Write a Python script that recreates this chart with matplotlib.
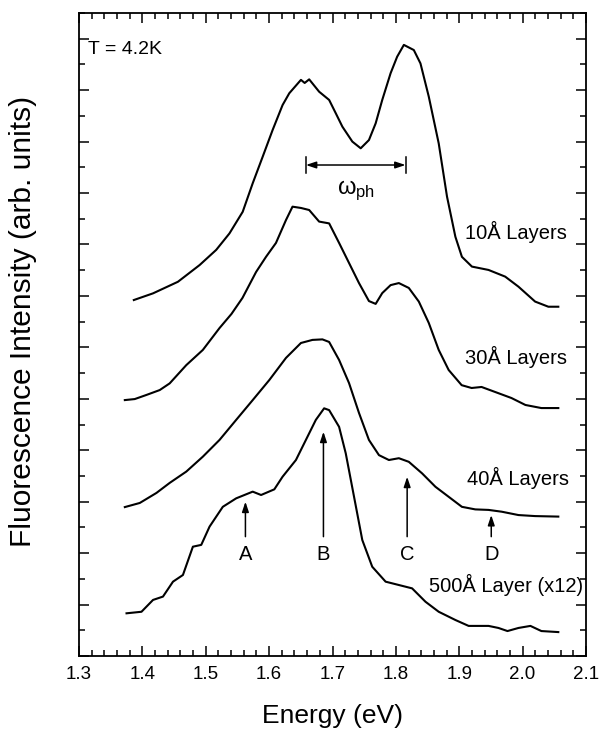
import matplotlib
matplotlib.use("Agg")
import matplotlib.pyplot as plt
from matplotlib.ticker import MultipleLocator

plt.rcParams['font.family'] = ['Liberation Sans', 'DejaVu Sans']
plt.rcParams['mathtext.fontset'] = 'custom'
plt.rcParams['mathtext.rm'] = 'Liberation Sans'
plt.rcParams['mathtext.it'] = 'Liberation Sans'

# ---- data (energy in eV, intensity in arbitrary offset units) ----
e_10 = [1.3865, 1.4168, 1.4561, 1.4903, 1.5165, 1.5374, 1.5583, 1.5741, 1.5898, 1.6055,
        1.6212, 1.6318, 1.6502, 1.6561, 1.6632, 1.6789, 1.6947, 1.7052, 1.7156, 1.7313,
        1.7445, 1.7575, 1.7681, 1.7785, 1.7917, 1.8020, 1.8126, 1.8283, 1.8388, 1.8519,
        1.8676, 1.8807, 1.8939, 1.9042, 1.9200, 1.9462, 1.9725, 1.9934, 2.0197, 2.0406, 2.0563]
i_10 = [13.84, 14.10, 14.55, 15.20, 15.79, 16.43, 17.27, 18.38, 19.41, 20.45,
        21.42, 21.88, 22.40, 22.28, 22.42, 21.94, 21.62, 21.10, 20.58, 20.00,
        19.74, 20.06, 20.71, 21.62, 22.66, 23.30, 23.76, 23.56, 23.04, 21.75,
        19.93, 17.86, 16.30, 15.52, 15.14, 15.01, 14.75, 14.36, 13.78, 13.58, 13.58]

e_30 = [1.3723, 1.3880, 1.4064, 1.4274, 1.4431, 1.4693, 1.4954, 1.5217, 1.5406, 1.5579,
        1.5794, 1.5951, 1.6108, 1.6266, 1.6369, 1.6502, 1.6632, 1.6789, 1.6947, 1.7104,
        1.7261, 1.7418, 1.7575, 1.7681, 1.7785, 1.7917, 1.8047, 1.8204, 1.8362, 1.8519,
        1.8676, 1.8833, 1.9038, 1.9195, 1.9352, 1.9572, 1.9824, 2.0044, 2.0296, 2.0563]
i_30 = [9.95, 9.99, 10.15, 10.34, 10.60, 11.31, 11.90, 12.75, 13.30, 13.92,
        14.93, 15.52, 16.06, 16.95, 17.47, 17.42, 17.34, 16.89, 16.82, 16.06,
        15.28, 14.50, 13.80, 13.69, 14.11, 14.42, 14.50, 14.31, 13.78, 12.95,
        11.90, 11.12, 10.53, 10.42, 10.46, 10.26, 10.03, 9.76, 9.64, 9.64]

e_40 = [1.3723, 1.3959, 1.4222, 1.4431, 1.4693, 1.4954, 1.5217, 1.5480, 1.5741, 1.6003,
        1.6266, 1.6502, 1.6684, 1.6841, 1.6947, 1.7104, 1.7261, 1.7418, 1.7575, 1.7733,
        1.7890, 1.8047, 1.8204, 1.8414, 1.8624, 1.8833, 1.9042, 1.9253, 1.9462, 1.9671,
        1.9934, 2.0197, 2.0563]
i_40 = [5.79, 5.95, 6.34, 6.73, 7.17, 7.75, 8.40, 9.18, 9.95, 10.73,
        11.59, 12.17, 12.29, 12.31, 12.21, 11.51, 10.61, 9.45, 8.40, 7.81,
        7.62, 7.69, 7.55, 7.10, 6.58, 6.19, 5.80, 5.70, 5.68, 5.61,
        5.48, 5.44, 5.42]

e_500 = [1.3750, 1.3986, 1.4168, 1.4325, 1.4483, 1.4640, 1.4797, 1.4929, 1.5060, 1.5269,
         1.5480, 1.5741, 1.5873, 1.6082, 1.6212, 1.6423, 1.6580, 1.6737, 1.6868, 1.6947,
         1.7104, 1.7209, 1.7340, 1.7470, 1.7627, 1.7838, 1.8047, 1.8256, 1.8467, 1.8676,
         1.8939, 1.9148, 1.9462, 1.9619, 1.9761, 1.9934, 2.0123, 2.0296, 2.0563]
i_500 = [1.66, 1.72, 2.18, 2.31, 2.89, 3.15, 4.25, 4.32, 5.03, 5.80,
         6.13, 6.39, 6.26, 6.48, 6.97, 7.62, 8.40, 9.18, 9.63, 9.56,
         8.91, 7.88, 6.19, 4.51, 3.47, 2.89, 2.76, 2.63, 2.11, 1.72,
         1.40, 1.17, 1.17, 1.09, 0.97, 1.09, 1.17, 0.97, 0.93]

curve_labels = ['10Å Layers', '30Å Layers', '40Å Layers', '500Å Layer (x12)']
curve_label_x = [1.9096, 1.9096, 1.9116, 1.8519]
curve_label_y = [16.5, 11.61, 6.91, 2.76]

peak_names = ['A', 'B', 'C', 'D']
peak_energies = [1.5626, 1.6857, 1.8178, 1.9505]
peak_arrow_tops = [6.00, 8.72, 6.97, 5.48]
arrow_base = 4.64
peak_label_y = 3.93

phonon_left = 1.658
phonon_right = 1.8153
phonon_y = 19.09

x_ticks = [1.3, 1.4, 1.5, 1.6, 1.7, 1.8, 1.9, 2.0, 2.1]

# ---- figure ----
fig = plt.figure(figsize=(6.0, 7.29), dpi=100)
ax = fig.add_axes([79 / 600, 73 / 729, 507 / 600, 643 / 729])

lw = 1.5
for e, i in [(e_10, i_10), (e_30, i_30), (e_40, i_40), (e_500, i_500)]:
    ax.plot(e, i, color='black', lw=lw, solid_joinstyle='round')

for txt, x, y in zip(curve_labels, curve_label_x, curve_label_y):
    ax.text(x, y, txt, fontsize=14.5, ha='left', va='center')

for name, e, top in zip(peak_names, peak_energies, peak_arrow_tops):
    ax.annotate('', xy=(e, top), xytext=(e, arrow_base),
                arrowprops=dict(arrowstyle='-|>,head_length=0.6,head_width=0.2',
                                color='black', lw=1.1, shrinkA=0, shrinkB=0))
    ax.text(e, peak_label_y, name, fontsize=14.5, ha='center', va='center')

# phonon energy marker
ax.annotate('', xy=(phonon_right, phonon_y), xytext=(phonon_left, phonon_y),
            arrowprops=dict(arrowstyle='<|-|>,head_length=0.6,head_width=0.2',
                            color='black', lw=1.1, shrinkA=0, shrinkB=0))
ax.plot([phonon_left, phonon_left], [phonon_y - 0.33, phonon_y + 0.33], color='black', lw=1.1)
ax.plot([phonon_right, phonon_right], [phonon_y - 0.33, phonon_y + 0.33], color='black', lw=1.1)
ax.text((phonon_left + phonon_right) / 2, phonon_y - 1.0, r'$\omega_{\mathrm{ph}}$',
        fontsize=17, ha='center', va='center')

ax.text(1.3142, 23.6, 'T = 4.2K', fontsize=14, ha='left', va='center')

ax.set_xlim(1.3, 2.1)
ax.set_ylim(0, 25)
ax.set_xticks(x_ticks)
ax.set_xticklabels([f'{v:.1f}' for v in x_ticks])
ax.xaxis.set_minor_locator(MultipleLocator(0.02))
ax.yaxis.set_major_locator(MultipleLocator(2))
ax.yaxis.set_minor_locator(MultipleLocator(1))
ax.set_yticklabels([])
ax.tick_params(which='both', direction='in', top=True, right=True, width=1.1, colors='black')
ax.tick_params(which='major', length=7)
ax.tick_params(which='minor', length=4)
ax.tick_params(axis='x', which='major', labelsize=13.5, pad=7)
for s in ax.spines.values():
    s.set_linewidth(1.3)

ax.set_xlabel('Energy (eV)', fontsize=19, va='center')
ax.xaxis.set_label_coords(0.5, -0.093)
ax.set_ylabel('Fluorescence Intensity (arb. units)', fontsize=21.5, va='center')
ax.yaxis.set_label_coords(-0.11, 0.52)

fig.savefig('out.png', dpi=100)
